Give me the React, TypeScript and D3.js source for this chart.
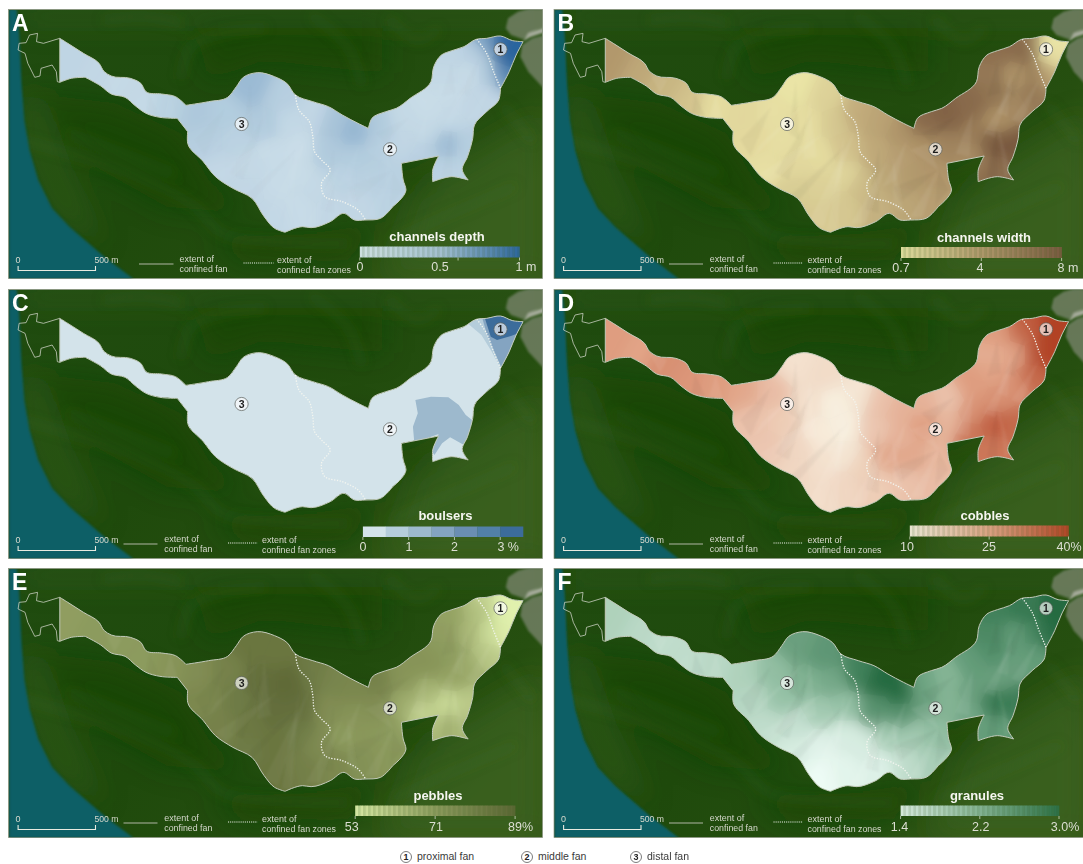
import React from "react";
import * as d3 from "d3";

// ---- map geometry, in map units (1568 x 855 per sheet) ----
type P = [number, number];
const fanOutline: P[] = [[172,115],[195,130],[240,160],[285,190],[300,215],[320,228],[375,235],[405,250],[420,275],[465,282],[505,290],[535,316],[600,305],[655,292],[680,260],[700,232],[740,218],[790,230],[825,250],[850,285],[900,305],[945,320],[985,345],[1030,370],[1060,385],[1070,355],[1110,335],[1140,325],[1180,295],[1240,245],[1248,200],[1270,165],[1300,152],[1335,140],[1370,118],[1400,115],[1440,108],[1475,122],[1505,125],[1485,165],[1465,215],[1440,265],[1435,300],[1400,335],[1365,375],[1360,415],[1345,470],[1330,510],[1347,540],[1300,530],[1245,545],[1245,510],[1262,468],[1155,490],[1160,540],[1168,570],[1130,620],[1095,655],[1050,660],[1020,660],[990,640],[950,665],[895,683],[870,680],[820,697],[790,685],[760,650],[725,595],[670,565],[620,530],[585,485],[540,430],[540,395],[510,355],[460,352],[420,340],[390,318],[360,292],[320,282],[290,258],[245,232],[205,235],[172,247]];
// vertices of the outline that stay sharp
const fanCorners = [0, 11, 24, 38, 41, 48, 50, 52, 53, 56, 64, 72, 73, 80, 82];
const catchmentOutline: P[] = [[172,115],[125,130],[105,125],[108,100],[85,105],[75,128],[55,130],[52,150],[72,160],[80,190],[100,232],[115,228],[118,205],[150,195],[162,215],[165,245],[172,247]];
const proximalBoundary: P[] = [[1372,118],[1400,160],[1420,215],[1440,265]];
const distalBoundary: P[] = [[850,285],[860,330],[890,365],[900,410],[905,455],[925,480],[950,510],[925,550],[935,590],[985,605],[1030,630],[1052,660]];
const seaOutline: P[] = [[25,28],[48,28],[55,100],[62,250],[70,360],[85,450],[110,540],[150,625],[200,680],[300,770],[385,838],[25,838]];
const debrisUpper: P[] = [[1455,85],[1462,55],[1490,35],[1520,26],[1600,26],[1600,75],[1550,88],[1505,118],[1470,105]];
const debrisLower: P[] = [[1497,170],[1502,135],[1530,115],[1600,95],[1600,290],[1560,260],[1520,215]];
const riverShape: P[] = [[1503,125],[1520,98],[1560,84],[1600,80],[1600,96],[1560,100],[1525,112]];
const ridgeLines: P[][] = [
  [[60,420],[230,470],[420,540],[560,620],[640,700],[800,725],[1000,730]],
  [[520,230],[550,140],[640,100],[760,85]],
  [[300,60],[420,50],[520,70]],
  [[900,50],[1000,140],[1040,250]],
  [[1120,60],[1200,120],[1260,90]],
  [[200,400],[330,450],[500,520]],
  [[1130,720],[1300,640],[1480,560]],
  [[1450,320],[1530,420]],
];
const darkPatches: P[][] = [
  [[90,280],[330,310],[520,400],[600,540],[720,640],[480,620],[240,480]],
  [[560,60],[1100,60],[1100,220],[760,180],[600,240]],
  [[1160,510],[1240,520],[1250,570],[1180,600]],
  [[600,710],[900,700],[1100,670],[1000,780],[700,790]],
  [[1000,400],[1160,470],[1100,620],[950,560]],
];
const lightPatches: P[][] = [
  [[1200,560],[1560,340],[1560,835],[1100,835]],
  [[60,28],[1560,28],[1560,70],[60,70]],
  [[60,280],[85,460],[160,640],[300,740],[180,500],[110,300]],
];

// ---- colour-sample locations across the fan, map units ----
const sites: P[] = [[200,180],[265,215],[340,260],[410,305],[490,320],[570,340],[650,340],[730,260],[800,290],[600,420],[680,420],[760,370],[830,370],[640,500],[720,500],[790,460],[860,440],[720,570],[790,560],[860,530],[790,640],[860,620],[910,560],[900,350],[960,370],[1020,400],[950,450],[1020,470],[1090,430],[990,530],[1060,530],[1120,530],[960,620],[1040,610],[1110,600],[1090,380],[1160,360],[1160,430],[1230,320],[1230,400],[1220,460],[1290,280],[1300,360],[1290,430],[1290,510],[1340,430],[1350,320],[1400,290],[1290,220],[1350,220],[1300,170],[1370,160],[1410,220],[1440,130],[1460,170],[1440,220],[1400,130]];

const channelsDepth = [.2,.18,.16,.16,.24,.32,.28,.42,.26,.26,.22,.3,.17,.18,.16,.14,.12,.18,.14,.13,.18,.14,.16,.18,.35,.45,.3,.28,.26,.22,.24,.24,.18,.18,.22,.3,.16,.18,.13,.16,.25,.13,.16,.42,.22,.26,.18,.18,.16,.14,.2,.25,.3,.98,1,.75,.6];
const channelsWidth = [4.1,3.4,2.8,2.2,1.1,1.3,1,.8,1.6,1.2,1,1.1,2,1,1.3,1.1,2.2,1.8,1.6,1.4,1.9,2,2.5,3.2,3.6,4.4,3.3,3.8,4.5,3.5,4,4.2,3,3.5,3.8,7,7.4,5.4,7,5.8,4.8,6.4,4.5,8,6.8,8,5,6,6,4.2,6.6,7,5.8,.7,1,3.6,6.4];
const cobbles = [26,25,28,27,26,24,20,13,14,19,17,13,10,18,15,11,10,15,13,12,14,15,16,12,19,22,18,22,26,24,24,21,17,19,20,22,19,21,26,28,32,25,28,36,32,34,28,34,23,25,26,34,37,40,40,40,36];
const pebbles = [71,72,72,72,74,76,80,84,84,78,82,86,88,80,83,86,86,82,84,82,84,81,77,82,79,78,76,74,76,72,73,72,78,75,73,80,74,68,74,66,60,72,70,58,66,62,68,62,71,65,70,64,58,53,53,54,60];
const granules = [1.85,1.75,1.7,1.7,1.75,1.85,2.1,2.45,2.55,1.8,2.05,2.25,2.35,1.7,1.65,1.95,2.05,1.5,1.42,1.5,1.32,1.4,1.5,2.8,3.05,3.05,2.6,2.6,2.45,1.95,1.95,2.1,1.45,1.7,1.9,2.4,2.2,2.2,2.5,2.45,2.35,2.65,2.45,2.9,2.5,2.85,2.45,2.5,2.7,2.5,2.8,2.9,2.75,3.05,3.05,3,2.85];

// hand-traced alluvial facets: [apex, two rays' ends, light(1)/dark(-1)]
const facets: [P, P, P, number][] = [
  [[890,390],[760,660],[800,680],1],[[880,420],[700,590],[730,600],-1],[[860,400],[810,690],[840,690],1],
  [[800,400],[620,520],[650,550],1],[[770,330],[660,520],[700,540],-1],[[760,300],[620,430],[600,470],1],
  [[760,300],[740,480],[780,470],1],[[720,240],[700,400],[730,420],-1],[[650,320],[560,420],[590,470],-1],
  [[960,440],[920,630],[960,640],-1],[[985,480],[880,670],[920,670],1],[[1000,470],[1000,620],[1030,640],1],
  [[1130,510],[1050,650],[1085,650],1],[[1130,510],[1120,620],[1160,570],-1],[[1130,510],[1000,560],[1020,610],-1],
  [[1130,510],[1050,450],[1100,430],1],[[1040,420],[970,560],[1010,540],1],
  [[1180,350],[1080,400],[1110,430],-1],[[1340,260],[1260,400],[1290,410],1],[[1340,220],[1300,340],[1330,350],1],
  [[1300,180],[1270,290],[1310,280],-1],[[1380,170],[1320,280],[1350,290],-1],[[1420,240],[1340,360],[1370,370],1],
  [[1300,370],[1270,530],[1300,530],-1],[[1300,370],[1340,520],[1320,530],1],[[1230,330],[1180,460],[1220,470],1],
  [[490,285],[470,350],[510,355],1],[[430,280],[420,340],[460,350],-1],[[300,220],[330,280],[350,240],1],
];

// ---- boulders: classed zones ----
const boulderBase = 0.25;
const boulderZones: { v: number; poly: P[] }[] = [
  { v: 1.25, poly: [[1195,360],[1240,350],[1290,352],[1320,375],[1340,405],[1370,430],[1350,475],[1335,495],[1295,472],[1272,490],[1250,525],[1240,510],[1262,462],[1192,488],[1188,440],[1202,400]] },
  { v: 0.75, poly: [[1345,130],[1380,105],[1530,105],[1530,200],[1445,275],[1415,215],[1385,165]] },
  { v: 1.75, poly: [[1385,105],[1530,105],[1530,200],[1445,268],[1420,210],[1400,160]] },
  { v: 3.25, poly: [[1392,105],[1530,105],[1490,160],[1470,168],[1430,180],[1412,170]] },
];
const boulderDomain = [0.5, 1, 1.5, 2, 2.5, 3];
const boulderColors = ["#d3e3ea", "#b5cddb", "#9db9cd", "#84a4c1", "#6a8eb2", "#5280a8", "#3c6c9b"];
const boulderLegendValues = [0.25, 0.75, 1.25, 1.75, 2.25, 2.75, 3.25];

// ---- fan-zone markers, map units ----
const zoneMarks: { n: string; at: P }[] = [
  { n: "1", at: [1440, 148] },
  { n: "2", at: [1122, 448] },
  { n: "3", at: [695, 372] },
];
const footerItems = [
  { n: "1", label: "proximal fan" },
  { n: "2", label: "middle fan" },
  { n: "3", label: "distal fan" },
];
const footerX = [406, 527, 636];

// ---- panel definitions ----
type Panel = {
  letter: string; x0: number; y0: number; w: number; title: string;
  values?: number[]; domain: number[]; range: string[];
  ticks: string[]; tickVals: number[]; labelX: number[];
  bar: [number, number, number, number]; titleAt: [number, number]; labelY: number;
  keyA?: boolean; facetAlpha: number;
};
const colX = [8.5, 554];
const rowY = [9.5, 289.5, 568.5];
const panels: Panel[] = [
  { letter: "A", x0: colX[0], y0: rowY[0], w: 534, title: "channels depth", values: channelsDepth,
    domain: [0, .35, 1], range: ["#dcebf1", "#a9c5da", "#2a659f"], ticks: ["0", "0.5", "1 m"], tickVals: [0, .5, 1],
    labelX: [351.5, 431.5, 517.5], bar: [351.3, 511, 237, 248], titleAt: [428.5, 231], labelY: 261, keyA: true, facetAlpha: 0.015 },
  { letter: "B", x0: colX[1], y0: rowY[0], w: 530, title: "channels width", values: channelsWidth,
    domain: [.7, 4, 8], range: ["#ece6a8", "#b49a6e", "#7a5a40"], ticks: ["0.7", "4", "8 m"], tickVals: [.7, 4, 8],
    labelX: [347, 426, 514], bar: [347, 507.6, 237.5, 248.5], titleAt: [430, 232.5], labelY: 262.5, facetAlpha: 0.045 },
  { letter: "C", x0: colX[0], y0: rowY[1], w: 534, title: "boulsers",
    domain: [0, 3.5], range: [], ticks: ["0", "1", "2", "3 %"], tickVals: [0, 1, 2, 3],
    labelX: [354.4, 400.6, 446, 499.7], bar: [354.4, 514.6, 237, 247.5], titleAt: [437, 230.5], labelY: 261.5, facetAlpha: 0 },
  { letter: "D", x0: colX[1], y0: rowY[1], w: 530, title: "cobbles", values: cobbles,
    domain: [10, 25, 40], range: ["#f8f0e0", "#e2a487", "#b34325"], ticks: ["10", "25", "40%"], tickVals: [10, 25, 40],
    labelX: [353, 435, 515], bar: [355.8, 514.5, 236, 247], titleAt: [431, 230.5], labelY: 261.5, facetAlpha: 0.045 },
  { letter: "E", x0: colX[0], y0: rowY[2], w: 534, title: "pebbles", values: pebbles,
    domain: [53, 71, 89], range: ["#e2f2ae", "#909e60", "#5c6635"], ticks: ["53", "71", "89%"], tickVals: [53, 71, 89],
    labelX: [343.3, 427.4, 512], bar: [346.7, 506.6, 237, 247.5], titleAt: [429.5, 231], labelY: 262, facetAlpha: 0.03 },
  { letter: "F", x0: colX[1], y0: rowY[2], w: 530, title: "granules", values: granules,
    domain: [1.4, 2.2, 3], range: ["#e3f5ec", "#86b697", "#2b7047"], ticks: ["1.4", "2.2", "3.0%"], tickVals: [1.4, 2.2, 3],
    labelX: [345.5, 426.8, 511], bar: [346.6, 505, 237, 247.5], titleAt: [423, 231], labelY: 262, facetAlpha: 0.045 },
];

// map units -> panel pixels
const mx = d3.scaleLinear().domain([0, 1568]).range([-8.5, 536.5]);
const my = d3.scaleLinear().domain([0, 855]).range([-9.5, 275.5]);
const mapLine = d3.line<P>().x((d) => mx(d[0])).y((d) => my(d[1]));
const closed = (pts: P[]) => mapLine(pts) + "Z";
const smooth = d3.line<P>().x((d) => mx(d[0])).y((d) => my(d[1])).curve(d3.curveCatmullRom.alpha(0.5));
const arc = d3.line<P>().x((d) => mx(d[0])).y((d) => my(d[1])).curve(d3.curveCatmullRom.alpha(1));
// each run between two sharp vertices is curved on its own, then the runs are joined
const fanPath = d3.pairs(fanCorners).map(([a, b], i) => {
  const run = arc(fanOutline.slice(a, b + 1)) || "";
  return i === 0 ? run : "L" + run.slice(1);
}).join("") + "Z";

const voronoi = d3.Delaunay.from(sites).voronoi([0, 0, 1568, 855]);
const cellPaths = sites.map((_, i) => {
  const poly = voronoi.cellPolygon(i) as unknown as P[];
  return closed(poly.slice(0, -1));
});

const FONT = "'Liberation Sans', Arial, sans-serif";
const boulderColor = d3.scaleThreshold<number, string>().domain(boulderDomain).range(boulderColors);

function Terrain() {
  return (
    <g>
      <rect x={-9} y={-10} width={560} height={290} fill="url(#terrainGrad)" />
      <g filter="url(#blur14)">
        {lightPatches.map((p, i) => <path key={i} d={closed(p)} fill="#3f6a2a" opacity={0.38} />)}
        {darkPatches.map((p, i) => <path key={i} d={closed(p)} fill="#174103" opacity={0.55} />)}
      </g>
      <g filter="url(#blur5)" fill="none" stroke="#4f7d3a" strokeLinecap="round">
        {ridgeLines.map((l, i) => <path key={i} d={smooth(l) || ""} strokeWidth={6} opacity={0.2} />)}
      </g>
      <path d={closed(seaOutline)} fill="#0e5f66" filter="url(#blur1)" />
      <path d={closed(debrisUpper)} fill="#77836a" opacity={0.8} filter="url(#blur1)" />
      <path d={closed(debrisLower)} fill="#77836a" opacity={0.8} filter="url(#blur1)" />
      <path d={closed(riverShape)} fill="#a6ab9b" filter="url(#blur1)" />
    </g>
  );
}

function Fan({ p, id }: { p: Panel; id: string }) {
  const clip = `fan-${id}`;
  let body: React.ReactNode;
  if (p.values) {
    const color = d3.scaleLinear<string>().domain(p.domain).range(p.range).interpolate(d3.interpolateRgb);
    const cells = cellPaths.map((d, i) => <path key={i} d={d} fill={color(p.values![i])} stroke={color(p.values![i])} strokeWidth={0.4} />);
    body = (
      <>
        <g filter="url(#blur7)">{cells}</g>
        <g opacity={0.1}>{cells}</g>
        <g filter="url(#blur1)">
          {facets.map((f, i) => (
            <path key={i} d={closed([f[0], f[1], f[2]])} fill={f[3] > 0 ? "#ffffff" : "#3a2a10"}
              opacity={p.facetAlpha * (f[3] > 0 ? 1.3 : 0.8)} />
          ))}
        </g>
      </>
    );
  } else {
    body = (
      <>
        <path d={fanPath} fill={boulderColor(boulderBase)} />
        {boulderZones.map((z, i) => <path key={i} d={closed(z.poly)} fill={boulderColor(z.v)} />)}
      </>
    );
  }
  return (
    <g>
      <clipPath id={clip}><path d={fanPath} /></clipPath>
      <g clipPath={`url(#${clip})`}>{body}</g>
      <path d={fanPath} fill="none" stroke="#c3cabb" strokeWidth={1} strokeLinejoin="round" />
      <path d={mapLine(catchmentOutline) || ""} fill="none" stroke="#c9cfc0" strokeWidth={0.8} />
      {[proximalBoundary, distalBoundary].map((b, i) => (
        <path key={i} d={smooth(b) || ""} fill="none" stroke="#f4f6f0" strokeWidth={1.3} strokeDasharray="1.3 1.5" />
      ))}
      {zoneMarks.map((m) => (
        <g key={m.n} transform={`translate(${mx(m.at[0])},${my(m.at[1])})`}>
          <circle r={6.6} fill="#ffffff" fillOpacity={0.65} stroke="#5a5f5a" strokeWidth={0.7} />
          <text textAnchor="middle" y={3.6} fontFamily={FONT} fontWeight={700} fontSize={10.5} fill="#1c1c1c">{m.n}</text>
        </g>
      ))}
    </g>
  );
}

function ColorKey({ p }: { p: Panel }) {
  const [x0, x1, y0, y1] = p.bar;
  const tx = d3.scaleLinear().domain(p.domain).range(p.domain.length === 3 ? [x0, (x0 + x1) / 2, x1] : [x0, x1]);
  let strips: React.ReactNode;
  if (p.values) {
    const color = d3.scaleLinear<string>().domain(p.domain).range(p.range);
    const pos = d3.scaleLinear().domain([0, 64]).range([x0, x1]);
    strips = d3.range(64).map((i) => (
      <rect key={i} x={pos(i)} y={y0} width={pos(1) - pos(0) + 0.3} height={y1 - y0}
        fill={color(tx.invert(pos(i)))} opacity={(i % 2 ? 0.8 : 0.92) + (i / 64) * 0.05} />
    ));
  } else {
    strips = boulderLegendValues.map((v, i) => (
      <rect key={i} x={tx(v - 0.25)} y={y0} width={tx(0.5) - tx(0) + 0.2} height={y1 - y0} fill={boulderColor(v)} />
    ));
  }
  return (
    <g>
      {strips}
      {p.tickVals.map((v, i) => <line key={i} x1={tx(v)} x2={tx(v)} y1={y1} y2={y1 + 3} stroke="#e3e6da" strokeWidth={0.7} />)}
      <text x={p.titleAt[0]} y={p.titleAt[1]} textAnchor="middle" fontFamily={FONT} fontWeight={700} fontSize={13} fill="#f6f6f0">{p.title}</text>
      {p.ticks.map((t, i) => (
        <text key={i} x={p.labelX[i]} y={p.labelY} textAnchor="middle" fontFamily={FONT} fontSize={12.5} fill="#dcdfd3">{t}</text>
      ))}
    </g>
  );
}

function Condensed({ x, y, w, anchor, children }: { x: number; y: number; w: number; anchor?: string; children: string }) {
  return (
    <text x={x} y={y} textLength={w} lengthAdjust="spacingAndGlyphs" textAnchor={anchor || "start"}
      fontFamily={FONT} fontSize={9.7} fill="#d6d9cd">{children}</text>
  );
}

function MapKey({ p }: { p: Panel }) {
  const k = p.keyA
    ? { a: 130.5, b: 165, t: 171, c: 235, d: 265, u: 268.5 }
    : { a: 115, b: 149, t: 155.8, c: 219.5, d: 249, u: 253.5 };
  const scale = d3.scaleLinear().domain([0, 500]).range([9.6, 87]);
  return (
    <g>
      <path d={`M${scale(0)},256.5V261H${scale(500)}V256.5`} fill="none" stroke="#e8ebe0" strokeWidth={1.1} />
      <Condensed x={scale(0)} y={253.5} w={5} anchor="middle">0</Condensed>
      <Condensed x={scale(500) - 1} y={253.5} w={24}>500 m</Condensed>
      <line x1={k.a} x2={k.b} y1={254.5} y2={254.5} stroke="#b0b6a4" strokeWidth={1.2} />
      <Condensed x={k.t} y={252.5} w={34.5}>extent of</Condensed>
      <Condensed x={k.t} y={262.5} w={48}>confined fan</Condensed>
      <line x1={k.c} x2={k.d} y1={253.5} y2={253.5} stroke="#eef0e8" strokeWidth={1.1} strokeDasharray="1.1 1" />
      <Condensed x={k.u} y={253} w={34.5}>extent of</Condensed>
      <Condensed x={k.u} y={263.5} w={74}>confined fan zones</Condensed>
    </g>
  );
}

export default function App() {
  return (
    <svg width={1083} height={864} viewBox="0 0 1083 864" style={{ position: "absolute", left: 0, top: 0, background: "#fff" }}>
      <defs>
        <linearGradient id="terrainGrad" x1="0" y1="0" x2="1" y2="0.55">
          <stop offset="0" stopColor="#204c10" />
          <stop offset="0.5" stopColor="#1f4a0c" />
          <stop offset="0.85" stopColor="#264f10" />
          <stop offset="1" stopColor="#365a18" />
        </linearGradient>
        <filter id="blur1" x="-5%" y="-5%" width="110%" height="110%"><feGaussianBlur stdDeviation={0.8} /></filter>
        <filter id="blur5" x="-10%" y="-10%" width="120%" height="120%"><feGaussianBlur stdDeviation={6} /></filter>
        <filter id="blur7" x="-5%" y="-5%" width="110%" height="110%"><feGaussianBlur stdDeviation={8} /></filter>
        <filter id="blur14" x="-20%" y="-20%" width="140%" height="140%"><feGaussianBlur stdDeviation={14} /></filter>
        {panels.map((p) => (
          <clipPath key={p.letter} id={`panel-${p.letter}`}><rect x={0} y={0} width={p.w} height={269} /></clipPath>
        ))}
      </defs>
      {panels.map((p) => (
        <g key={p.letter} transform={`translate(${p.x0},${p.y0})`}>
          <g clipPath={`url(#panel-${p.letter})`}>
            <Terrain />
            <Fan p={p} id={p.letter} />
            <MapKey p={p} />
            <ColorKey p={p} />
          </g>
          <rect x={0} y={0} width={p.w} height={269} fill="none" stroke="#8c9484" strokeWidth={0.7} />
          <text x={3.5} y={21} fontFamily={FONT} fontWeight={700} fontSize={23} fill="#ffffff">{p.letter}</text>
        </g>
      ))}
      {footerItems.map((f, i) => (
        <g key={f.n} transform={`translate(${footerX[i]},857)`}>
          <circle r={5.5} fill="#fff" stroke="#444" strokeWidth={0.7} />
          <text textAnchor="middle" y={3.2} fontFamily={FONT} fontWeight={700} fontSize={9} fill="#222">{f.n}</text>
          <text x={11} y={3.4} fontFamily={FONT} fontSize={10.5} fill="#3a3a3a">{f.label}</text>
        </g>
      ))}
    </svg>
  );
}
